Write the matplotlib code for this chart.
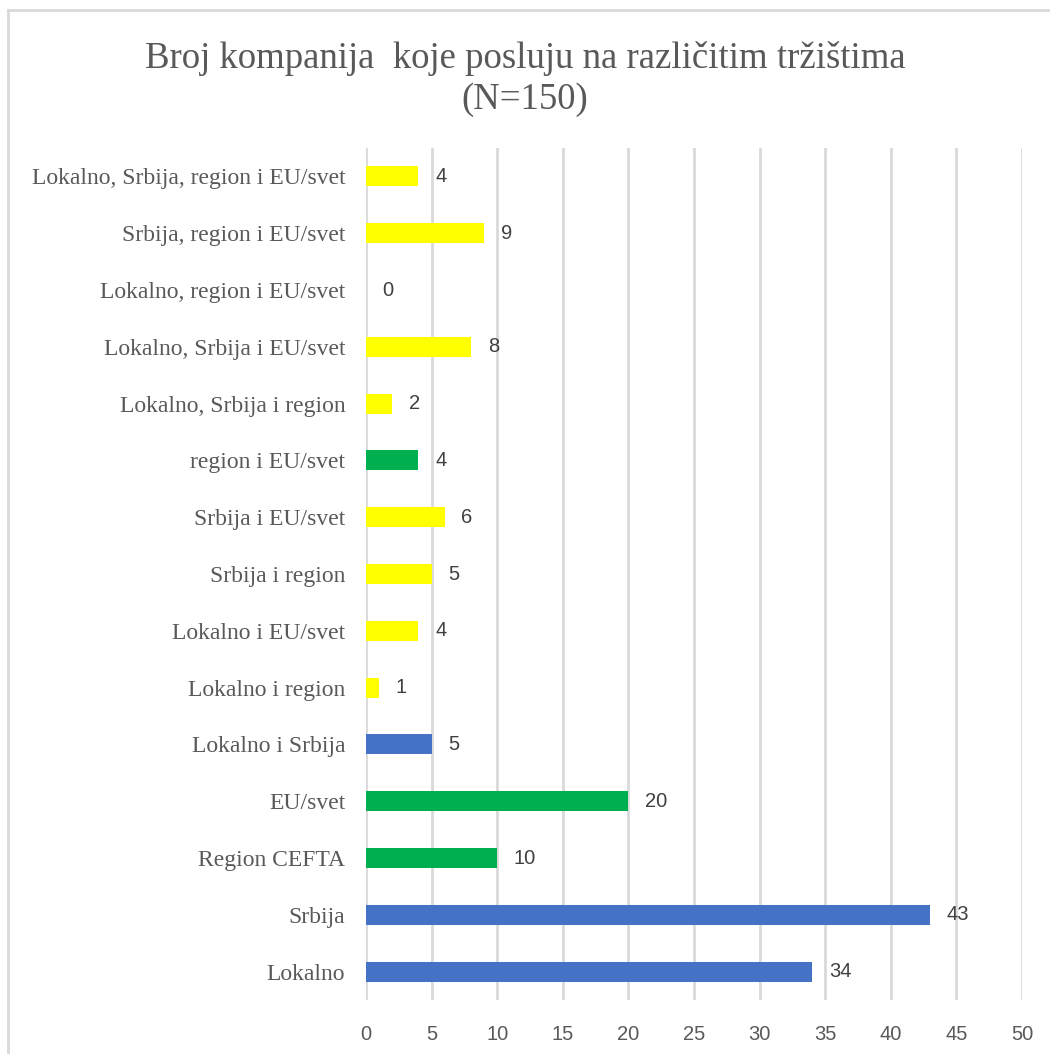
import matplotlib.pyplot as plt
from matplotlib.lines import Line2D

categories = ['Lokalno', 'Srbija', 'Region CEFTA', 'EU/svet', 'Lokalno i Srbija',
              'Lokalno i region', 'Lokalno i EU/svet', 'Srbija i region',
              'Srbija i EU/svet', 'region i EU/svet', 'Lokalno, Srbija i region',
              'Lokalno, Srbija i EU/svet', 'Lokalno, region i EU/svet',
              'Srbija, region i EU/svet', 'Lokalno, Srbija, region i EU/svet']
values = [34, 43, 10, 20, 5, 1, 4, 5, 6, 4, 2, 8, 0, 9, 4]
groups = ['blue', 'blue', 'green', 'green', 'blue', 'yellow', 'yellow', 'yellow',
          'yellow', 'green', 'yellow', 'yellow', 'yellow', 'yellow', 'yellow']
x_ticks = list(range(0, 55, 5))

palette = {'blue': '#4472C4', 'green': '#00B050', 'yellow': '#FFFF00'}
colors = [palette[g] for g in groups]

fig = plt.figure(figsize=(10.5, 10.54), dpi=100)
ax = fig.add_axes([366 / 1050, 54 / 1054, 656 / 1050, 852 / 1054])

ypos = list(range(len(categories)))
ax.barh(ypos, values, height=0.35, color=colors, zorder=3)

# value labels next to the bars
for y, v in zip(ypos, values):
    ax.annotate(str(v), (v, y), xytext=(12, 0), textcoords='offset points',
                ha='left', va='center', fontsize=14.5, color='#404040',
                family='Liberation Sans')

ax.set_xlim(0, 50)
ax.set_ylim(-0.5, len(categories) - 0.5)
ax.set_xticks(x_ticks)
ax.set_xticklabels([str(t) for t in x_ticks], fontsize=14.5, color='#595959',
                   family='Liberation Sans')
ax.set_yticks(ypos)
ax.set_yticklabels(categories, fontsize=17, color='#595959', family='Liberation Serif')
ax.tick_params(axis='y', length=0, pad=15)
ax.tick_params(axis='x', length=0, pad=18)
ax.grid(axis='x', color='#D9D9D9', linewidth=2, zorder=0)
for s in ax.spines.values():
    s.set_visible(False)

fig.text(0.5, 1 - 58 / 1054, 'Broj kompanija  koje posluju na različitim tržištima',
         ha='center', va='center', fontsize=26.5, color='#595959', family='Liberation Serif')
fig.text(0.5, 1 - 100 / 1054, '(N=150)', ha='center', va='center', fontsize=26.5,
         color='#595959', family='Liberation Serif')

# light frame at top and left
fig.add_artist(Line2D([8 / 1050, 1.0], [1 - 10 / 1054, 1 - 10 / 1054],
                      transform=fig.transFigure, color='#D9D9D9', linewidth=2))
fig.add_artist(Line2D([8 / 1050, 8 / 1050], [0, 1 - 10 / 1054],
                      transform=fig.transFigure, color='#D9D9D9', linewidth=2))

fig.savefig('out.png', dpi=100)
